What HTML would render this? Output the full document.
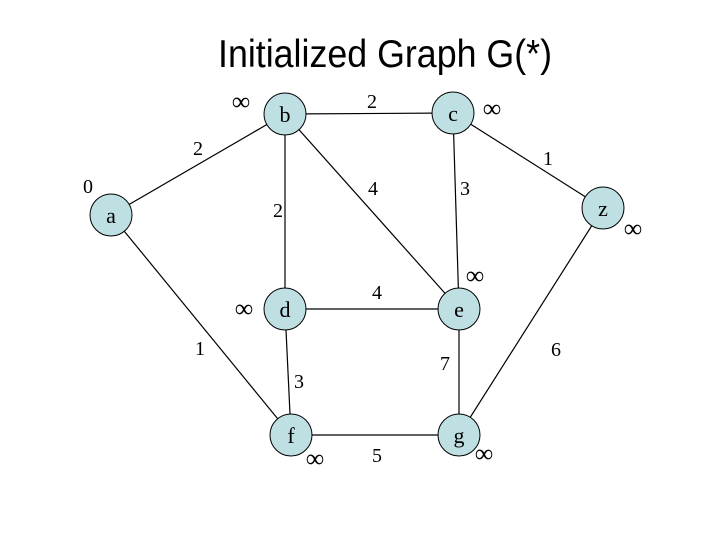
<!DOCTYPE html>
<html><head><style>body{margin:0;background:#fff}svg{display:block}</style></head><body>
<svg width="720" height="540" xmlns="http://www.w3.org/2000/svg" font-family="Liberation Serif, serif" font-size="20">
<rect width="720" height="540" fill="#fff"/>
<text x="218" y="67" font-family="Liberation Sans, sans-serif" font-size="39" textLength="334" lengthAdjust="spacingAndGlyphs">Initialized Graph G(*)</text>
<g stroke="#000" stroke-width="1.2">
<line x1="111" y1="215" x2="285" y2="114"/>
<line x1="285" y1="114" x2="453" y2="113"/>
<line x1="453" y1="113" x2="603" y2="208"/>
<line x1="285" y1="114" x2="285" y2="309"/>
<line x1="285" y1="114" x2="459" y2="309"/>
<line x1="453" y1="113" x2="459" y2="309"/>
<line x1="285" y1="309" x2="459" y2="309"/>
<line x1="111" y1="215" x2="291" y2="435"/>
<line x1="285" y1="309" x2="291" y2="435"/>
<line x1="459" y1="309" x2="459" y2="435"/>
<line x1="291" y1="435" x2="459" y2="435"/>
<line x1="459" y1="435" x2="603" y2="208"/>
</g>
<g fill="#bfe0e3" stroke="#000" stroke-width="1">
<circle cx="111" cy="215" r="21"/><circle cx="285" cy="114" r="21"/><circle cx="453" cy="113" r="21"/>
<circle cx="603" cy="208" r="21"/><circle cx="285" cy="309" r="21"/><circle cx="459" cy="309" r="21"/>
<circle cx="291" cy="435" r="21"/><circle cx="459" cy="435" r="21"/>
</g>
<g text-anchor="middle" font-size="22">
<text x="111" y="223">a</text><text x="285" y="122">b</text><text x="453" y="121">c</text>
<text x="603" y="216">z</text><text x="285" y="317">d</text><text x="459" y="317">e</text>
<text x="291" y="443">f</text><text x="459" y="443">g</text>
</g>
<g text-anchor="middle" font-size="20">
<text x="198" y="155">2</text><text x="372" y="108">2</text><text x="548" y="165">1</text>
<text x="278" y="217">2</text><text x="373" y="195">4</text><text x="465" y="195">3</text>
<text x="377" y="299">4</text><text x="200" y="355">1</text><text x="299" y="388">3</text>
<text x="445" y="370">7</text><text x="556" y="356">6</text><text x="377" y="462">5</text>
<text x="88" y="193">0</text>
</g>
<g text-anchor="middle" font-size="26">
<text x="241" y="110">∞</text><text x="492" y="117">∞</text><text x="633" y="237">∞</text>
<text x="244" y="317">∞</text><text x="475" y="284">∞</text><text x="315" y="467">∞</text>
<text x="484" y="462">∞</text>
</g>
</svg>
</body></html>
